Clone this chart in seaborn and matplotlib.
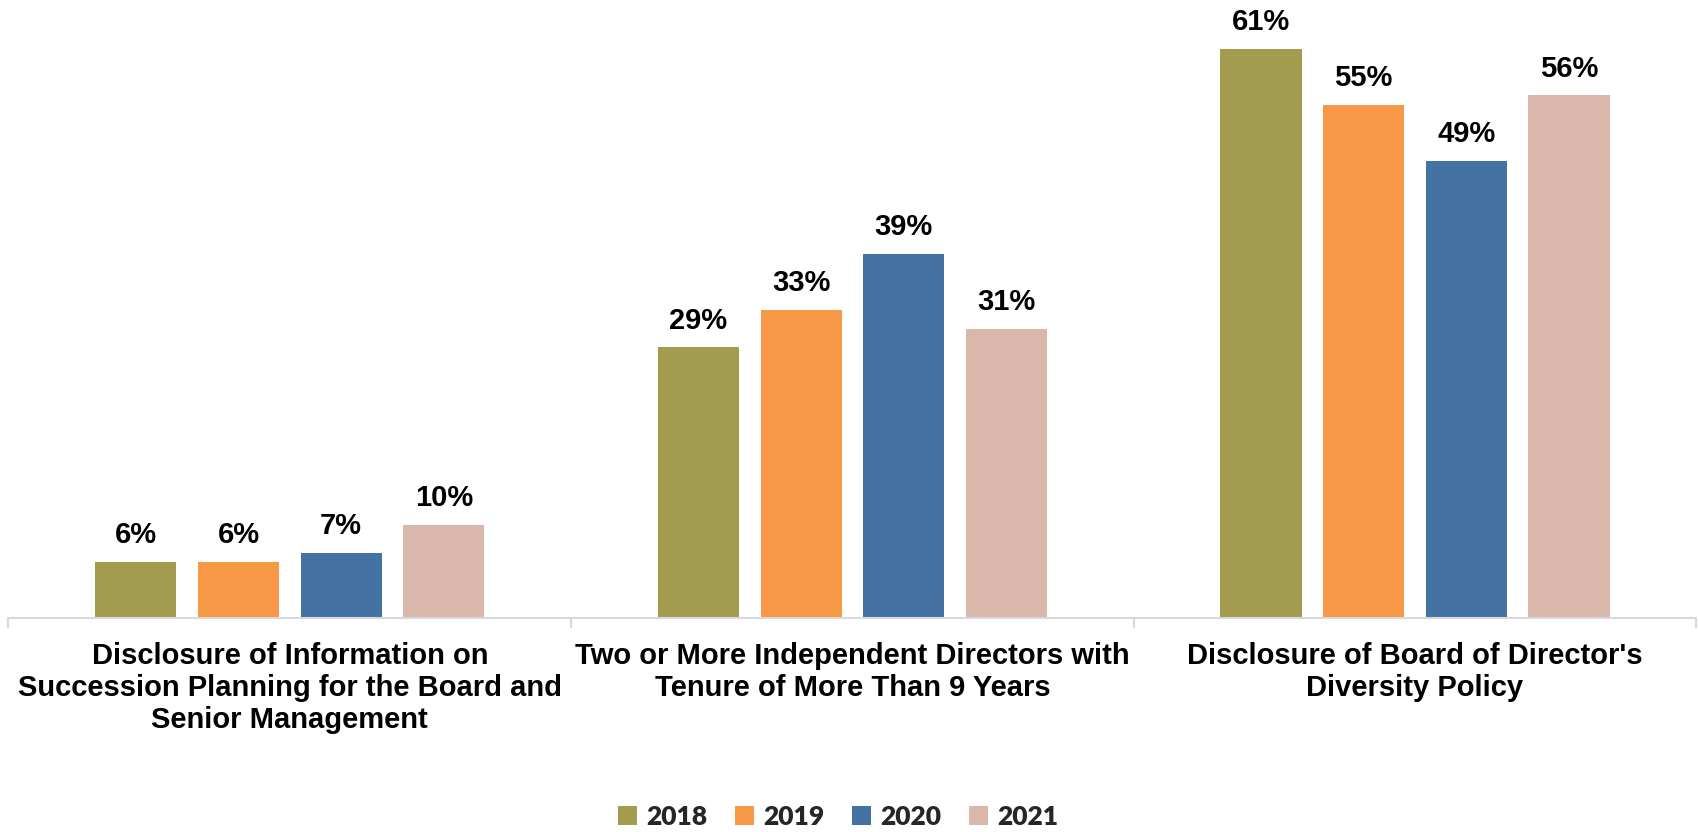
import pandas as pd
import seaborn as sns
import matplotlib.pyplot as plt
from matplotlib.ticker import FixedLocator

categories = [
    "Disclosure of Information on\nSuccession Planning for the Board and\nSenior Management",
    "Two or More Independent Directors with\nTenure of More Than 9 Years",
    "Disclosure of Board of Director's\nDiversity Policy",
]
years = ["2018", "2019", "2020", "2021"]
values_2018 = [6, 29, 61]
values_2019 = [6, 33, 55]
values_2020 = [7, 39, 49]
values_2021 = [10, 31, 56]
colors = ["#A39C4E", "#F79846", "#4472A2", "#D9B8AB"]

rows = []
for year, vals in zip(years, [values_2018, values_2019, values_2020, values_2021]):
    for cat, v in zip(categories, vals):
        rows.append({"category": cat, "year": year, "value": v})
df = pd.DataFrame(rows)

sns.set_style("white")
plt.rcParams["font.family"] = ["Liberation Sans", "DejaVu Sans"]

fig = plt.figure(figsize=(16.98, 8.32), dpi=100)
ax = fig.add_axes([0.005, 0.2572, 0.994, 0.7428])

sns.barplot(data=df, x="category", y="value", hue="year", hue_order=years,
            palette=colors, width=0.73, gap=0.21, saturation=1, ax=ax,
            edgecolor="none")

for cont in ax.containers:
    ax.bar_label(cont, labels=[f"{b.get_height():.0f}%" for b in cont],
                 padding=9, fontsize=21, fontweight="bold", color="black")

ax.set_xlim(-0.5, 2.5)
ax.set_ylim(0, 66.2)
ax.set_xlabel("")
ax.set_ylabel("")
ax.set_yticks([])
for s in ["top", "right", "left"]:
    ax.spines[s].set_visible(False)
ax.spines["bottom"].set_color("#D9D9D9")
ax.spines["bottom"].set_linewidth(1.5)

ax.tick_params(axis="x", which="major", length=0, pad=17, colors="black")
ax.xaxis.set_minor_locator(FixedLocator([-0.5, 0.5, 1.5, 2.5]))
ax.tick_params(axis="x", which="minor", bottom=True, length=7, width=1.5,
               color="#D9D9D9", direction="out")
for lab in ax.get_xticklabels():
    lab.set_fontsize(21)
    lab.set_fontweight("bold")
    lab.set_linespacing(1.2)

handles, labels = ax.get_legend_handles_labels()
ax.legend_.remove()
fig.legend(handles, labels, loc="center", bbox_to_anchor=(0.4935, 0.018), ncol=4,
           frameon=False, handlelength=0.72, handleheight=0.72, handletextpad=0.35,
           columnspacing=1.05, prop={"family": ["Lato", "DejaVu Sans"], "weight": "heavy", "size": 19})

fig.savefig("out.png", dpi=100)
